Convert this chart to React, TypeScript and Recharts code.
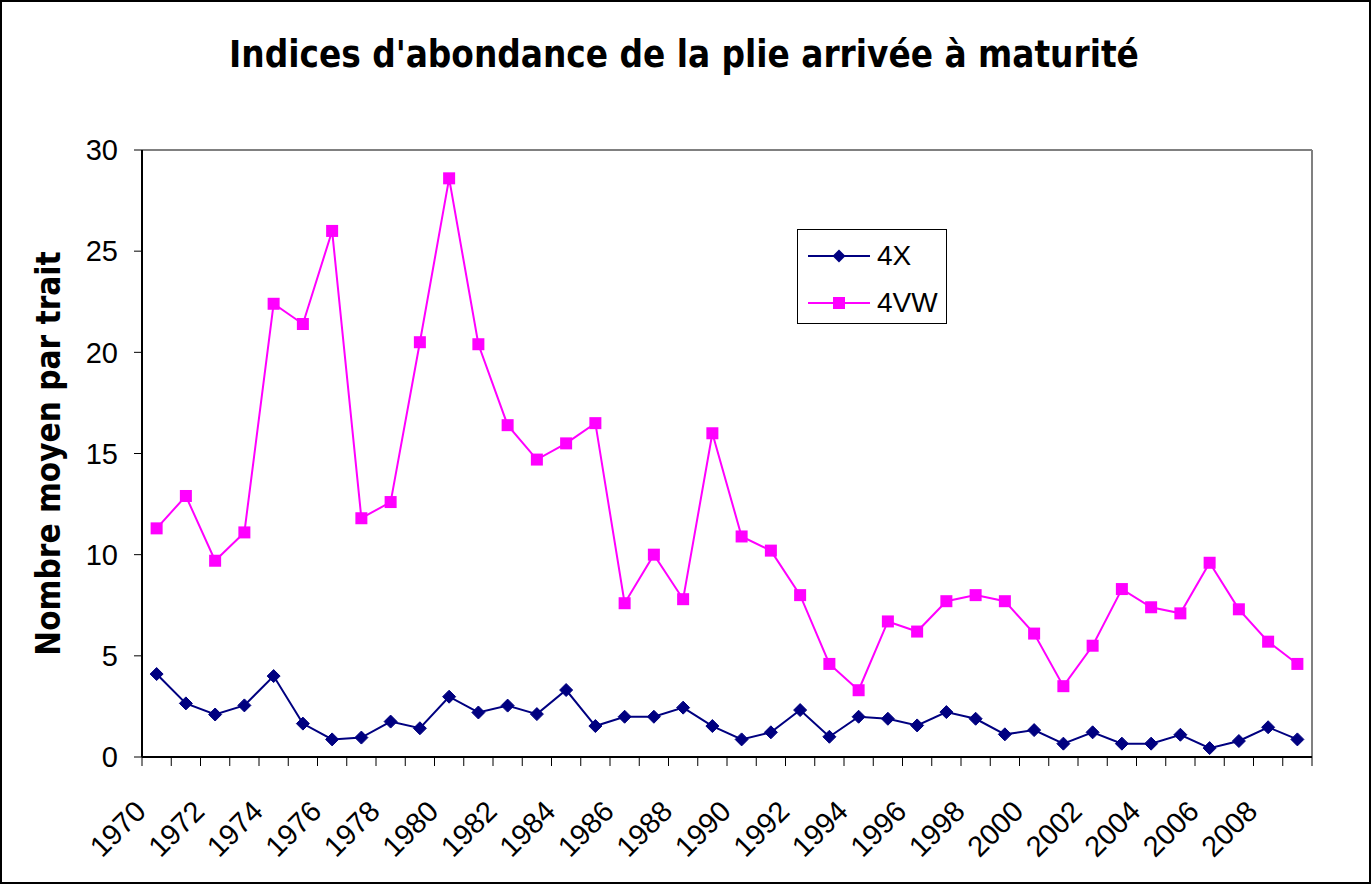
import React from 'react';
import { LineChart, Line, XAxis, YAxis, ReferenceLine, Legend, Label } from 'recharts';

// Survey years (one category per year)
const years = [
  '1970', '1971', '1972', '1973', '1974', '1975', '1976', '1977', '1978', '1979',
  '1980', '1981', '1982', '1983', '1984', '1985', '1986', '1987', '1988', '1989',
  '1990', '1991', '1992', '1993', '1994', '1995', '1996', '1997', '1998', '1999',
  '2000', '2001', '2002', '2003', '2004', '2005', '2006', '2007', '2008', '2009',
];

// Mean number per tow, division 4X
const series4X = [
  4.1, 2.65, 2.1, 2.55, 4.0, 1.65, 0.87, 0.96, 1.75, 1.42,
  2.98, 2.2, 2.54, 2.12, 3.31, 1.53, 1.99, 1.99, 2.44, 1.53,
  0.87, 1.22, 2.32, 1.0, 1.99, 1.89, 1.56, 2.22, 1.89, 1.12,
  1.33, 0.66, 1.22, 0.66, 0.66, 1.1, 0.44, 0.79, 1.47, 0.87,
];

// Mean number per tow, divisions 4VW
const series4VW = [
  11.3, 12.9, 9.7, 11.1, 22.4, 21.4, 26.0, 11.8, 12.6, 20.5,
  28.6, 20.4, 16.4, 14.7, 15.5, 16.5, 7.6, 10.0, 7.8, 16.0,
  10.9, 10.2, 8.0, 4.6, 3.3, 6.7, 6.2, 7.7, 8.0, 7.7,
  6.1, 3.5, 5.5, 8.3, 7.4, 7.1, 9.6, 7.3, 5.7, 4.6,
];

const yTicks = [0, 5, 10, 15, 20, 25, 30];
const labelYears = ['1970', '1972', '1974', '1976', '1978', '1980', '1982', '1984', '1986', '1988',
  '1990', '1992', '1994', '1996', '1998', '2000', '2002', '2004', '2006', '2008'];

const NAVY = '#000080';
const MAGENTA = '#FF00FF';
const TEXT_FONT = '"Liberation Sans", Arial, sans-serif';
const TITLE_FONT = '"DejaVu Sans Condensed", "DejaVu Sans", Verdana, sans-serif';
const TICK_SIZE = 29;

// Each year sits in the middle of its category slot; slot edges carry the tick marks.
const data = years.map((year, i) => ({ year, pos: i + 0.5, x4: series4X[i], vw: series4VW[i] }));
const edgeTicks = [...years.map((_, i) => i), years.length];
const labelTicks = labelYears.map((y) => years.indexOf(y) + 0.5);

const Diamond = (props: any) => {
  const { cx, cy, index } = props;
  if (cx == null || cy == null) return null;
  const r = 6.5;
  return (
    <polygon
      key={`d-${index}`}
      points={`${cx},${cy - r} ${cx + r},${cy} ${cx},${cy + r} ${cx - r},${cy}`}
      fill={NAVY}
      stroke={NAVY}
      strokeWidth={1}
    />
  );
};

const Square = (props: any) => {
  const { cx, cy, index } = props;
  if (cx == null || cy == null) return null;
  const h = 6;
  return <rect key={`s-${index}`} x={cx - h} y={cy - h} width={2 * h} height={2 * h} fill={MAGENTA} />;
};

const YearTick = (props: any) => {
  const { x, y, payload } = props;
  const label = years[Math.floor(payload.value)];
  return (
    <g transform={`translate(${x - 9},${y + 55})`}>
      <text textAnchor="end" transform="rotate(-45)" fontFamily={TEXT_FONT} fontSize={TICK_SIZE} fill="#000">
        {label}
      </text>
    </g>
  );
};

// Tick marks only, no text
const EmptyTick = () => <g />;

const legendSeries = [
  { name: '4X', color: NAVY, shape: 'diamond' },
  { name: '4VW', color: MAGENTA, shape: 'square' },
];

const LegendBox = () => (
  <div
    style={{
      boxSizing: 'border-box',
      width: 150,
      height: 95,
      border: '1px solid #000',
      background: '#fff',
      position: 'relative',
    }}
  >
    {legendSeries.map((s, i) => {
      const cy = i === 0 ? 26 : 73;
      return (
        <React.Fragment key={s.name}>
          <svg style={{ position: 'absolute', left: 10, top: cy - 8 }} width={62} height={16}>
            <line x1={0} y1={8} x2={62} y2={8} stroke={s.color} strokeWidth={2} />
            {s.shape === 'diamond' ? (
              <polygon points="31,1.5 37.5,8 31,14.5 24.5,8" fill={s.color} />
            ) : (
              <rect x={25} y={2} width={12} height={12} fill={s.color} />
            )}
          </svg>
          <span
            style={{
              position: 'absolute',
              left: 79,
              top: cy - 16,
              lineHeight: '32px',
              fontFamily: TEXT_FONT,
              fontSize: 28,
              color: '#000',
              whiteSpace: 'nowrap',
            }}
          >
            {s.name}
          </span>
        </React.Fragment>
      );
    })}
  </div>
);

export default function App() {
  return (
    <div style={{ position: 'relative', width: 1371, height: 884, background: '#fff' }}>
      <style>{'body{margin:0;}'}</style>
      <div
        style={{
          position: 'absolute',
          left: 0,
          top: 37,
          width: 1368,
          textAlign: 'center',
          fontFamily: TITLE_FONT,
          fontWeight: 'bold',
          fontSize: 36.5,
          lineHeight: '36px',
          color: '#000',
          whiteSpace: 'nowrap',
        }}
      >
        Indices d'abondance de la plie arrivée à maturité
      </div>
      <LineChart width={1371} height={884} data={data} margin={{ top: 150, right: 59, bottom: 125, left: 0 }}>
        <XAxis
          xAxisId="edges"
          dataKey="pos"
          type="number"
          domain={[0, years.length]}
          ticks={edgeTicks}
          interval={0}
          tick={<EmptyTick />}
          tickSize={9}
          height={1}
          axisLine={{ stroke: '#000', strokeWidth: 2 }}
          tickLine={{ stroke: '#000', strokeWidth: 1 }}
        />
        <XAxis
          xAxisId="main"
          dataKey="pos"
          type="number"
          domain={[0, years.length]}
          ticks={labelTicks}
          interval={0}
          tick={<YearTick />}
          tickSize={0}
          tickMargin={0}
          height={1}
          axisLine={false}
          tickLine={false}
        />
        <YAxis
          yAxisId="left"
          type="number"
          domain={[0, 30]}
          ticks={yTicks}
          interval={0}
          width={142}
          tickSize={8}
          tickMargin={16}
          axisLine={{ stroke: '#000', strokeWidth: 2 }}
          tickLine={{ stroke: '#000', strokeWidth: 1 }}
          tick={{ fill: '#000', fontSize: TICK_SIZE, fontFamily: TEXT_FONT }}
        >
          <Label
            value="Nombre moyen par trait"
            angle={-90}
            position="center"
            dx={-23}
            style={{ fontFamily: TITLE_FONT, fontWeight: 'bold', fontSize: 33, fill: '#000' }}
          />
        </YAxis>
        <ReferenceLine xAxisId="main" yAxisId="left" y={30} stroke="#808080" strokeWidth={2} ifOverflow="visible" />
        <ReferenceLine xAxisId="main" yAxisId="left" x={years.length} stroke="#808080" strokeWidth={2} ifOverflow="visible" />
        <Line
          xAxisId="main"
          yAxisId="left"
          dataKey="x4"
          name="4X"
          stroke={NAVY}
          strokeWidth={2}
          dot={Diamond}
          activeDot={false}
          isAnimationActive={false}
        />
        <Line
          xAxisId="main"
          yAxisId="left"
          dataKey="vw"
          name="4VW"
          stroke={MAGENTA}
          strokeWidth={2}
          dot={Square}
          activeDot={false}
          isAnimationActive={false}
        />
        <Legend
          layout="vertical"
          align="center"
          verticalAlign="middle"
          wrapperStyle={{ left: 797, top: 229, width: 150, height: 95 }}
          content={() => <LegendBox />}
        />
      </LineChart>
      <div
        style={{
          position: 'absolute',
          left: 0,
          top: 0,
          width: 1371,
          height: 884,
          boxSizing: 'border-box',
          border: '2px solid #000',
          pointerEvents: 'none',
        }}
      />
    </div>
  );
}
